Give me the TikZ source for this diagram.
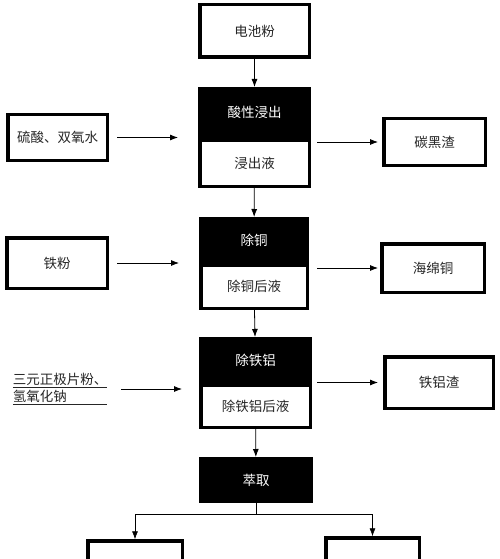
\documentclass[tikz,border=0pt]{standalone}
\usepackage{fontspec}
\newfontfamily\cjk{Noto Sans CJK SC}
\usetikzlibrary{arrows.meta}

\tikzset{
  stage/.style={draw, line width=3.5pt, inner sep=0pt, text=black!85,
    font=\cjk\fontsize{13.5}{15}\selectfont},
  head/.style={stage, fill=black, text=white},
  flow/.style={-{Latex[length=8pt,width=6pt]}, line width=0.8pt},
}

\begin{document}
\begin{tikzpicture}[x=1pt,y=-1pt]
        % Process flow sheet
        \clip (0,0) rectangle (500,559);
        \node[stage, minimum width=109.5pt, minimum height=52.5pt] (powder) at (254.5,31) {电池粉};
        \node[head, minimum width=109.5pt, minimum height=47.5pt] (leach) at (254.5,112.5) {酸性浸出};
        \node[stage, minimum width=109.5pt, minimum height=46.5pt] (leachate) at (254.5,163) {浸出液};
        \node[head, minimum width=106.5pt, minimum height=42.5pt] (cu) at (254,240) {除铜};
        \node[stage, minimum width=106.5pt, minimum height=43.5pt] (culiq) at (254,286.5) {除铜后液};
        \node[head, minimum width=109.5pt, minimum height=42.5pt] (feal) at (255.5,360) {除铁铝};
        \node[stage, minimum width=109.5pt, minimum height=42.5pt] (fealliq) at (255.5,406) {除铁铝后液};
        \node[head, minimum width=110.5pt, minimum height=42.5pt] (extract) at (256,480) {萃取};

        % inputs
        \node[stage, minimum width=99.5pt, minimum height=45.5pt] (acid) at (57.5,137.5) {硫酸、双氧水};
        \node[stage, minimum width=100.5pt, minimum height=50.5pt] (iron) at (57,263) {铁粉};
        \node[font=\cjk\fontsize{13.5}{17}\selectfont, text=black!85, align=left, inner sep=0pt] (naoh) at (60,389)
            {\underline{三元正极片粉、}\\\underline{氢氧化钠\hspace{3em}}};

        % residues
        \node[stage, minimum width=101.5pt, minimum height=46.5pt] (carbon) at (434.5,142) {碳黑渣};
        \node[stage, minimum width=102.5pt, minimum height=48.5pt] (sponge) at (433,268) {海绵铜};
        \node[stage, minimum width=108.5pt, minimum height=51.5pt] (slag) at (439,382.5) {铁铝渣};

        % outputs
        \node[stage, minimum width=94.5pt, minimum height=60pt] (outl) at (135,571) {};
        \node[stage, minimum width=93.5pt, minimum height=60pt] (outr) at (372.5,568) {};

        \draw[flow] (powder) -- (leach);
        \draw[flow] (leachate) -- (cu);
        \draw[flow] (culiq) -- (feal);
        \draw[flow] (fealliq) -- (extract);

        \draw[flow, shorten <=8pt, shorten >=20pt] (acid.east) -- (acid.east -| leach.west);
        \draw[flow, shorten <=8pt, shorten >=20pt] (iron.east) -- (iron.east -| cu.west);
        \draw[flow, shorten <=14pt, shorten >=17pt] (naoh.east) -- (naoh.east -| feal.west);

        \draw[flow, shorten <=6pt, shorten >=4pt] (carbon.west -| leach.east) -- (carbon.west);
        \draw[flow, shorten <=8pt, shorten >=2pt] (sponge.west -| cu.east) -- (sponge.west);
        \draw[flow, shorten <=5pt, shorten >=5pt] (slag.west -| feal.east) -- (slag.west);

        \draw[flow, line width=0.6pt] (extract.south) -- ++(0,11) -| (outl.north);
        \draw[flow, line width=0.6pt] (extract.south) -- ++(0,11) -| (outr.north);
\end{tikzpicture}
\end{document}
